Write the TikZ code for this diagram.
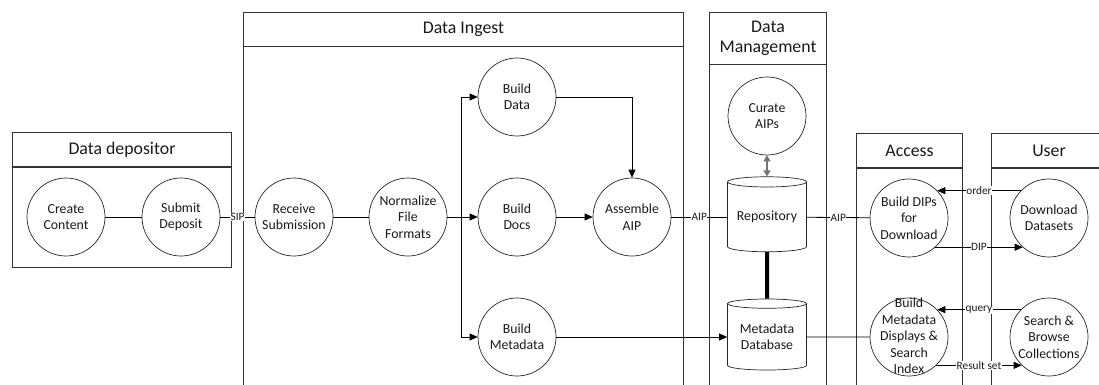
\documentclass[tikz,border=0pt]{standalone}
\usepackage{fontspec}
\setmainfont{Carlito}
\usetikzlibrary{arrows.meta,shapes.geometric}
\begin{document}
\begin{tikzpicture}[x=1pt, y=-1pt,
    every node/.style={font=\fontsize{13.8}{16.5}\selectfont, text=black!90},
    proc/.style={circle, draw=black!85, line width=0.7pt, minimum size=78pt, inner sep=0pt, align=center},
    store/.style={cylinder, shape border rotate=90, draw=black!85, line width=0.7pt, aspect=0.17,
        minimum width=79pt, minimum height=75pt, inner sep=0pt, align=center},
    poolhead/.style={draw=black!80, line width=1pt, anchor=north west, align=center,
        font=\fontsize{17.8}{20.5}\selectfont},
    pool/.style={draw=black!80, line width=1pt},
    flow/.style={line width=0.8pt},
    arr/.style={flow, -{Triangle[length=8pt, width=7pt]}},
    dbl/.style={line width=2pt, black!55, {Triangle[length=6pt, width=7pt]}-{Triangle[length=6pt, width=7pt]}},
    tag/.style={fill=white, inner sep=0.5pt, font=\fontsize{11.3}{12}\selectfont}]
\useasboundingbox (0,0) rectangle (1099,385);
% pools
\node[poolhead, minimum width=219pt, minimum height=34pt] (hdep) at (12,132) {Data depositor};
\draw[pool] (hdep.south west) rectangle (231,267);
\node[poolhead, minimum width=440pt, minimum height=34pt] (hing) at (243,12) {Data Ingest};
\draw[pool] (hing.south west) rectangle (683,392);
\node[poolhead, minimum width=117pt, minimum height=52pt] (hman) at (709,12) {Data\\Management};
\draw[pool] (hman.south west) rectangle (826,392);
\node[poolhead, minimum width=106pt, minimum height=34pt] (hacc) at (856,133) {Access};
\draw[pool] (hacc.south west) rectangle (962,392);
\node[poolhead, minimum width=115pt, minimum height=34pt] (husr) at (991,133) {User};
\draw[pool] (husr.south west) rectangle (1106,392);
% processes and stores
\node[proc] (cc) at (66,217) {Create\\Content};
\node[proc] (sd) at (181,217) {Submit\\Deposit};
\node[proc] (rs) at (294,217) {Receive\\Submission};
\node[proc] (nf) at (408,217) {Normalize\\File\\Formats};
\node[proc] (bd) at (517,97) {Build\\Data};
\node[proc] (bdc) at (517,217) {Build\\Docs};
\node[proc] (bm) at (517,337) {Build\\Metadata};
\node[proc] (aa) at (632,217) {Assemble\\AIP};
\node[proc] (ca) at (767,116) {Curate\\AIPs};
\node[store] (repo) at (767,217) {Repository};
\node[store, minimum height=71pt] (mdb) at (767,337) {Metadata\\Database};
\node[proc] (bdip) at (909,218) {Build DIPs\\for\\Download};
\node[proc] (bmd) at (909,337) {\smash{\raisebox{-4pt}{\begin{tabular}{@{}c@{}}Build\\Metadata\\Displays \&\\Search\\Index\end{tabular}}}};
\node[proc] (dd) at (1049,218) {Download\\Datasets};
\node[proc] (sb) at (1049,337) {Search \&\\Browse\\Collections};
\coordinate (sp) at (461,217);
% flows
\draw[flow] (cc) -- (sd);
\draw[flow] (sd) -- node[tag]{SIP} (rs);
\draw[flow] (rs) -- (nf);
\draw[flow] (nf) -- (sp);
\draw[arr] (sp) -- (bdc);
\draw[arr] (sp) |- (bd);
\draw[arr] (sp) |- (bm);
\draw[arr] (bdc) -- (aa);
\draw[arr] (bd) -| (aa);
\draw[flow] (aa) -- node[tag]{AIP} (repo);
\draw[flow] (repo) -- node[tag]{AIP} (bdip);
\draw[dbl] (ca) -- (repo);
\draw[line width=4pt] (repo) -- (mdb);
\draw[arr] (bm) -- (mdb);
\draw[flow] (mdb) -- (bmd);
\draw[arr] (dd.136) -- node[tag]{order} (bdip.44);
\draw[arr] (bdip.-48) -- node[tag]{DIP} (dd.-132);
\draw[arr] (sb.136) -- node[tag]{query} (bmd.44);
\draw[arr] (bmd.-46) -- node[tag]{Result set} (sb.-134);
\end{tikzpicture}
\end{document}
